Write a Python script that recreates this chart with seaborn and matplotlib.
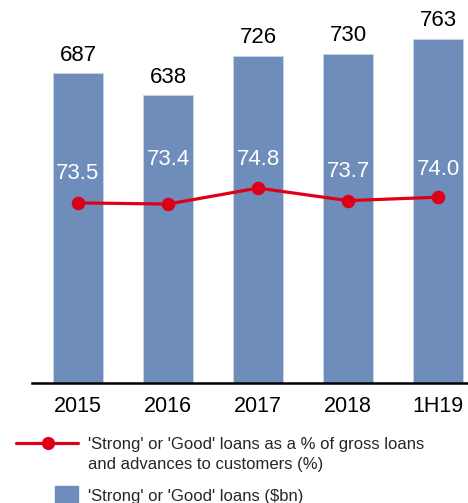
import matplotlib
matplotlib.use("Agg")
import matplotlib.pyplot as plt
from matplotlib.lines import Line2D
from matplotlib.patches import Rectangle
import seaborn as sns
import pandas as pd

# ======================================================
# DATA
# ======================================================
periods = ["2015", "2016", "2017", "2018", "1H19"]
loans_bn = [687, 638, 726, 730, 763]
pct_strong_good = [73.5, 73.4, 74.8, 73.7, 74.0]
pct_label_offset = [29, 45, 29, 29, 28]   # px above point, as in the original

BAR_COLOR = "#6E8DBA"
LINE_COLOR = "#DD0016"

sns.set_theme(style="white")
plt.rcParams["font.family"] = ["Liberation Sans", "DejaVu Sans"]

df = pd.DataFrame({"period": periods, "loans": loans_bn, "pct": pct_strong_good})

# ======================================================
# FIGURE
# ======================================================
W, H = 468, 503
fig = plt.figure(figsize=(W / 100, H / 100), dpi=100)
ax = fig.add_axes([32 / W, (H - 383) / H, 436 / W, 383 / H])

sns.barplot(data=df, x="period", y="loans", color=BAR_COLOR, width=0.555,
            edgecolor="#C9D5E6", linewidth=0.6, saturation=1, ax=ax)
ax.set_ylim(0, 849.5)
ax.set_xlim(-0.511, 4.333)

for i, v in enumerate(loans_bn):
    ax.annotate(str(v), (i, v), xytext=(0, 18), textcoords="offset pixels",
                ha="center", va="center", fontsize=16, color="black",
                annotation_clip=False)

ax2 = ax.twinx()
sns.pointplot(data=df, x="period", y="pct", color=LINE_COLOR, markers="o",
              markersize=8, linewidth=2.3, ax=ax2)
ax2.set_ylim(57.7, 91.3)
ax2.set_xlim(-0.511, 4.333)

for i, (v, off) in enumerate(zip(pct_strong_good, pct_label_offset)):
    ax2.annotate(f"{v:.1f}", (i, v), xytext=(0, off), textcoords="offset pixels",
                 ha="center", va="center", fontsize=16, color="white")

for a in (ax, ax2):
    a.set_xlabel("")
    a.set_ylabel("")
    a.set_yticks([])
    for s in ["top", "right", "left"]:
        a.spines[s].set_visible(False)
ax2.spines["bottom"].set_visible(False)
ax.spines["bottom"].set_color("black")
ax.spines["bottom"].set_linewidth(1.8)
ax.tick_params(axis="x", length=0, labelsize=15.5, pad=9, colors="black")

# ======================================================
# LEGEND (drawn by hand to follow the original layout)
# ======================================================
ly = (H - 443) / H
fig.add_artist(Line2D([16 / W, 78 / W], [ly, ly], color=LINE_COLOR, lw=2.3,
                      transform=fig.transFigure))
fig.add_artist(Line2D([48 / W], [ly], marker="o", markersize=8.5,
                      color=LINE_COLOR, transform=fig.transFigure))
fig.text(88 / W, (H - 445) / H, "'Strong' or 'Good' loans as a % of gross loans",
         fontsize=12, va="center", ha="left")
fig.text(88 / W, (H - 465) / H, "and advances to customers (%)",
         fontsize=12, va="center", ha="left")
fig.add_artist(Rectangle((55 / W, (H - 503) / H), 23 / W, 17 / H,
                         color=BAR_COLOR, transform=fig.transFigure))
fig.text(88 / W, (H - 497) / H, "'Strong' or 'Good' loans ($bn)",
         fontsize=12, va="center", ha="left")

fig.savefig("out.png", dpi=100)
